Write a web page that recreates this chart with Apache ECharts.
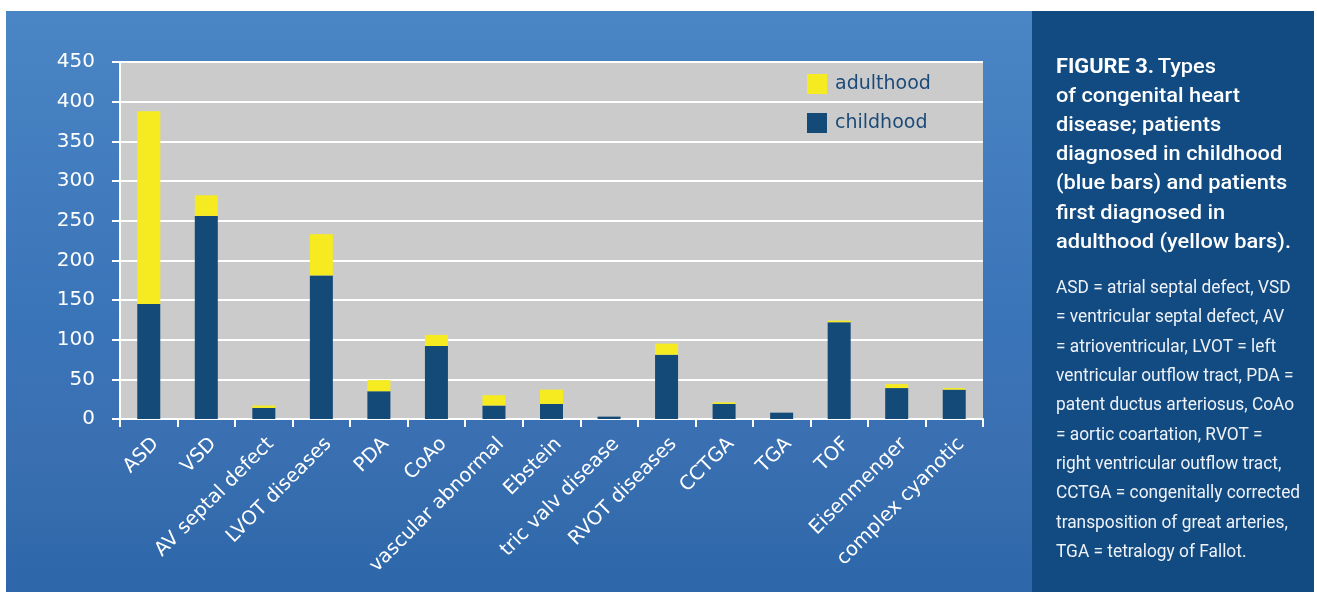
<!DOCTYPE html>
<html>
<head>
<meta charset="utf-8">
<script src="https://cdn.jsdelivr.net/npm/echarts@6/dist/echarts.min.js"></script>
<style>
html,body{margin:0;padding:0;background:#ffffff;}
#chart{width:1317px;height:592px;}
</style>
</head>
<body>
<div id="chart"></div>
<script>
const categories = ['ASD','VSD','AV septal defect','LVOT diseases','PDA','CoAo','vascular abnormal','Ebstein','tric valv disease','RVOT diseases','CCTGA','TGA','TOF','Eisenmenger','complex cyanotic'];
const childhood = [145, 256, 14, 181, 35, 92, 17, 19, 3, 81, 19, 8, 122, 39, 37];
const adulthood = [243, 26, 3, 52, 14, 14, 13, 18, 0, 14, 2, 0, 2, 5, 2];
const yTicks = {min: 0, max: 450, interval: 50};
const titleLines = ['Types', 'of congenital heart', 'disease; patients', 'diagnosed in childhood', '(blue bars) and patients', 'first diagnosed in', 'adulthood (yellow bars).'];
const noteLines = ['ASD = atrial septal defect, VSD', '= ventricular septal defect, AV', '= atrioventricular, LVOT = left', 'ventricular outflow tract, PDA =', 'patent ductus arteriosus, CoAo', '= aortic coartation, RVOT =', 'right ventricular outflow tract,', 'CCTGA = congenitally corrected', 'transposition of great arteries,', 'TGA = tetralogy of Fallot.'];

const chart = echarts.init(document.getElementById('chart'), null, {renderer: 'canvas'});
const white = '#ffffff';
const option = {
  animation: false,
  backgroundColor: '#ffffff',
  graphic: [
    {type: 'rect', z: -10, silent: true, shape: {x: 6, y: 11, width: 1026, height: 581},
      style: {fill: new echarts.graphic.LinearGradient(0, 0, 0, 1, [
        {offset: 0, color: '#4A85C5'}, {offset: 0.55, color: '#3A74B8'}, {offset: 0.75, color: '#3A70B2'}, {offset: 1, color: '#2D67A9'}])}},
    {type: 'rect', z: -10, silent: true, shape: {x: 1032, y: 11, width: 282, height: 581}, style: {fill: '#124B82'}},
    {type: 'text', x: 1056, y: 53, scaleX: 1.09, originX: 0, originY: 0, silent: true,
      style: {
        text: '{b|FIGURE 3.} {n|' + titleLines[0] + '}\n' + titleLines.slice(1).map(l => '{n|' + l + '}').join('\n'),
        rich: {
          b: {fontFamily: 'Roboto', fontWeight: 'bold', fontSize: 20, fill: white, lineHeight: 29.2},
          n: {fontFamily: 'Roboto', fontWeight: 500, fontSize: 20, fill: white, lineHeight: 29.2}
        },
        fill: white
      }},
    {type: 'text', x: 1056, y: 274, scaleX: 0.962, originX: 0, originY: 0, silent: true,
      style: {text: noteLines.join('\n'), fontFamily: 'Roboto, sans-serif', fontSize: 18, lineHeight: 29.3, fill: '#EEF2F8'}}
  ],
  legend: {
    data: ['adulthood', 'childhood'],
    orient: 'vertical', left: 807, top: 74, padding: 0,
    itemWidth: 20, itemHeight: 20, itemGap: 19,
    icon: 'rect',
    textStyle: {color: '#1B4A78', fontSize: 19, fontFamily: '"DejaVu Sans", sans-serif', padding: [0, 0, 0, 3]}
  },
  grid: {left: 120, right: 334, top: 62, bottom: 173, show: true, backgroundColor: '#CBCBCB', borderWidth: 0, containLabel: false},
  xAxis: {
    type: 'category', data: categories,
    axisLine: {lineStyle: {color: white, width: 2}},
    axisTick: {show: true, alignWithLabel: false, length: 8, lineStyle: {color: white, width: 2}},
    axisLabel: {interval: 0, rotate: 45, color: white, fontSize: 19.5, fontFamily: '"DejaVu Sans", sans-serif', margin: 15, verticalAlign: 'top'}
  },
  yAxis: {
    type: 'value', min: yTicks.min, max: yTicks.max, interval: yTicks.interval,
    axisLine: {show: true, lineStyle: {color: white, width: 2}},
    axisTick: {show: true, length: 8, lineStyle: {color: white, width: 2}},
    splitLine: {lineStyle: {color: white, width: 2}},
    axisLabel: {color: white, fontSize: 20, fontFamily: '"DejaVu Sans", sans-serif', margin: 25}
  },
  series: [
    {name: 'childhood', type: 'bar', stack: 'total', data: childhood, barWidth: 23, itemStyle: {color: '#134A78'}},
    {name: 'adulthood', type: 'bar', stack: 'total', data: adulthood, barWidth: 23, itemStyle: {color: '#F5EB20'}}
  ]
};
chart.setOption(option);
</script>
</body>
</html>
